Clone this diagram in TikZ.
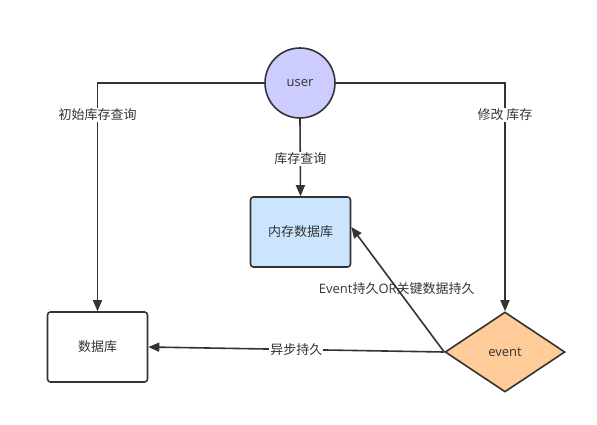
\documentclass[tikz,border=0pt]{standalone}
\usepackage{fontspec}
\setmainfont{Noto Sans CJK SC}
\newfontfamily\latinf{Open Sans}
\usetikzlibrary{shapes.geometric,arrows.meta}
\definecolor{ln}{HTML}{333333}
\definecolor{userfill}{HTML}{CCCCFF}
\definecolor{memfill}{HTML}{CCE5FF}
\definecolor{evfill}{HTML}{FFCC99}
\begin{document}
\begin{tikzpicture}[x=1pt,y=-1pt,
  font=\fontsize{13}{15}\selectfont,
  every node/.style={text=ln},
  conn/.style={draw=ln,line width=1.6pt,-{Triangle[length=11pt,width=9pt]}},
  box/.style={draw=ln,line width=1.6pt,rounded corners=3pt,minimum width=100pt,minimum height=70pt,inner sep=0pt},
  lbl/.style={fill=white,inner sep=1pt}]
\useasboundingbox (0,0) rectangle (597,424);
\node[circle,draw=ln,line width=1.6pt,fill=userfill,minimum size=70pt,inner sep=0pt] (user) at (300,83) {{\latinf user}};
\node[box,fill=memfill] (mem) at (300.5,232) {内存数据库};
\node[box,fill=white] (db) at (97.5,347) {数据库};
\node[diamond,draw=ln,line width=1.6pt,fill=evfill,minimum width=120pt,minimum height=80pt,inner sep=0pt,aspect=1.5] (ev) at (505,352) {{\latinf event}};
\coordinate (cl) at (97.5,83);
\coordinate (cr) at (505,83);
\draw[conn] (user.west) -- (cl) -- node[lbl,pos=0.14]{初始库存查询} (db.north);
\draw[conn] (user.east) -- (cr) -- node[lbl,pos=0.14]{修改 库存} (ev.north);
\draw[conn] (user.south) -- node[lbl,pos=0.52]{库存查询} (mem.north);
\draw[conn] (ev.west) -- node[lbl,pos=0.5]{异步持久} (db.east);
\draw[conn] (ev.west) -- node[lbl,fill=none,pos=0.51]{{\latinf Event}持久{\latinf OR}关键数据持久} ([yshift=5pt]mem.east);
\end{tikzpicture}
\end{document}
